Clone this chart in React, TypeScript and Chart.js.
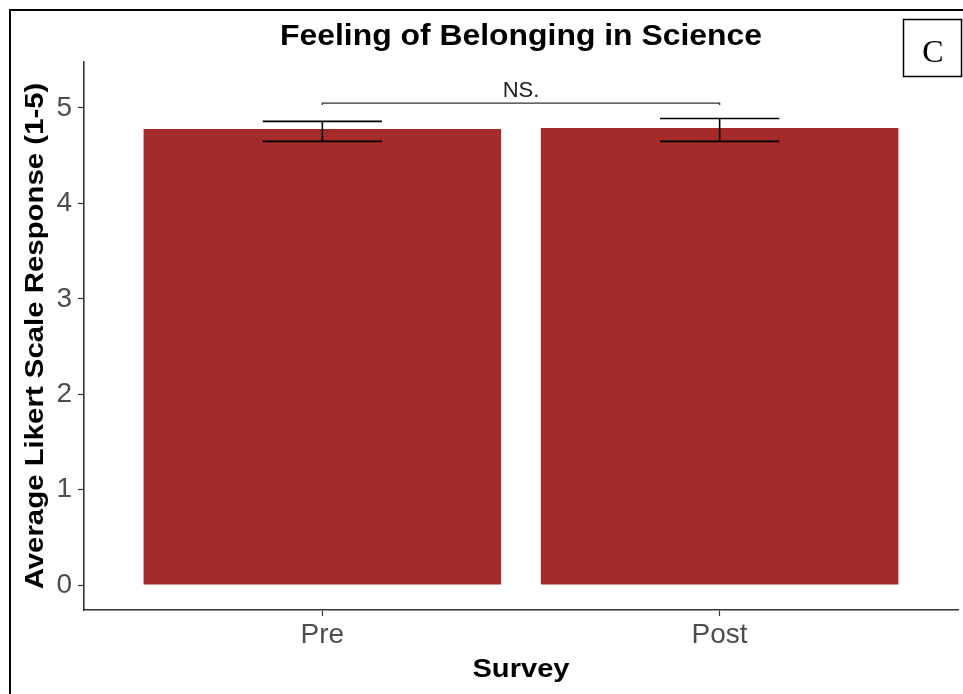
import { useEffect, useRef } from "react";
import { Chart, registerables } from "chart.js";

Chart.register(...registerables);

// Survey categories and mean responses with their error-bar bounds
const categories = ["Pre", "Post"];
const meanScores = [4.78, 4.79];
const errLower = [4.65, 4.65];
const errUpper = [4.86, 4.89];

// Axis ticks and range
const yTicks = [0, 1, 2, 3, 4, 5];
const yMin = -0.262;
const yMax = 5.482;

// Significance bracket between the two bars
const bracketValue = 5.05;
const bracketLabel = "NS.";

const titleText = "Feeling of Belonging in Science";
const xTitle = "Survey";
const yTitle = "Average Likert Scale Response (1-5)";
const panelLetter = "C";

const W = 963;
const H = 694;
const SANS = "'Liberation Sans', Arial, Helvetica, sans-serif";
const SERIF = "'Liberation Serif', 'Times New Roman', serif";
const ERR_WIDTH = 0.3; // error-bar cap width, in x units
const BAR_COLOR = "#A52A2A";
const AXIS_COLOR = "#333333";
const TICK_TEXT = "#4D4D4D";

function drawText(
  ctx: CanvasRenderingContext2D,
  text: string,
  x: number,
  y: number,
  font: string,
  stretch: number,
  rotation = 0,
  color = "#000"
) {
  ctx.save();
  ctx.translate(x, y);
  ctx.rotate(rotation);
  ctx.scale(stretch, 1);
  ctx.font = font;
  ctx.fillStyle = color;
  ctx.textAlign = "center";
  ctx.textBaseline = "alphabetic";
  ctx.fillText(text, 0, 0);
  ctx.restore();
}

const annotations = {
  id: "annotations",
  afterDatasetsDraw(chart: any) {
    const { ctx } = chart;
    const x = chart.scales.x;
    const y = chart.scales.y;
    ctx.save();

    // error bars
    ctx.strokeStyle = "#000";
    ctx.lineWidth = 1.6;
    categories.forEach((_, i) => {
      const cx = x.getPixelForValue(i + 1);
      const half = x.getPixelForValue(i + 1 + ERR_WIDTH / 2) - cx;
      const yl = y.getPixelForValue(errLower[i]);
      const yu = y.getPixelForValue(errUpper[i]);
      ctx.beginPath();
      ctx.moveTo(cx - half, yu);
      ctx.lineTo(cx + half, yu);
      ctx.moveTo(cx, yu);
      ctx.lineTo(cx, yl);
      ctx.moveTo(cx - half, yl);
      ctx.lineTo(cx + half, yl);
      ctx.stroke();
    });

    // significance bracket
    const x1 = x.getPixelForValue(1);
    const x2 = x.getPixelForValue(2);
    const by = y.getPixelForValue(bracketValue);
    const tip = y.getPixelForValue(bracketValue - 0.02);
    ctx.strokeStyle = AXIS_COLOR;
    ctx.lineWidth = 1.3;
    ctx.beginPath();
    ctx.moveTo(x1, tip);
    ctx.lineTo(x1, by);
    ctx.lineTo(x2, by);
    ctx.lineTo(x2, tip);
    ctx.stroke();
    drawText(ctx, bracketLabel, (x1 + x2) / 2, by - 6, `22px ${SANS}`, 1.0, 0, "#222");

    ctx.restore();
  },
  afterDraw(chart: any) {
    const { ctx, chartArea } = chart;
    const cx = (chartArea.left + chartArea.right) / 2;
    const cy = (chartArea.top + chartArea.bottom) / 2;
    ctx.save();

    // titles
    drawText(ctx, titleText, cx, 45, `bold 29px ${SANS}`, 1.1);
    drawText(ctx, xTitle, cx, 677, `bold 26px ${SANS}`, 1.12);
    drawText(ctx, yTitle, 43, cy, `bold 26px ${SANS}`, 1.13, -Math.PI / 2);

    // outer frame
    ctx.strokeStyle = "#000";
    ctx.lineWidth = 2;
    ctx.strokeRect(10, 10, W + 20, H + 20);

    // panel letter box
    ctx.lineWidth = 1.5;
    ctx.fillStyle = "#fff";
    ctx.fillRect(903, 19, 59, 58);
    ctx.strokeRect(903.5, 19.5, 58, 57);
    drawText(ctx, panelLetter, 933, 62, `32px ${SERIF}`, 1.0);

    ctx.restore();
  },
};

export default function App() {
  const canvasRef = useRef<HTMLCanvasElement | null>(null);

  useEffect(() => {
    const canvas = canvasRef.current;
    if (!canvas) return;
    const chart = new Chart(canvas, {
      type: "bar",
      data: {
        datasets: [
          {
            data: meanScores.map((v, i) => ({ x: i + 1, y: v })),
            backgroundColor: BAR_COLOR,
            borderWidth: 0,
            barPercentage: 0.9,
            categoryPercentage: 1,
          },
        ],
      },
      options: {
        responsive: false,
        animation: false,
        devicePixelRatio: 1,
        layout: { padding: { top: 62, right: 5, left: 0, bottom: 0 } },
        plugins: {
          legend: { display: false },
          tooltip: { enabled: false },
          title: { display: false },
        },
        scales: {
          x: {
            type: "linear",
            min: 0.4,
            max: 2.6,
            offset: false,
            afterBuildTicks: (scale: any) => {
              scale.ticks = categories.map((_, i) => ({ value: i + 1 }));
            },
            afterFit: (scale: any) => {
              scale.height = 84;
            },
            grid: {
              offset: false,
              drawOnChartArea: false,
              drawTicks: true,
              tickLength: 6,
              tickColor: AXIS_COLOR,
              tickWidth: 1.2,
            },
            border: { display: true, color: AXIS_COLOR, width: 1.6 },
            ticks: {
              color: TICK_TEXT,
              font: { family: SANS, size: 28 },
              padding: 2,
              maxRotation: 0,
              autoSkip: false,
              callback: (v: any) => categories[Math.round(Number(v)) - 1] ?? "",
            },
          },
          y: {
            type: "linear",
            min: yMin,
            max: yMax,
            afterBuildTicks: (scale: any) => {
              scale.ticks = yTicks.map((v) => ({ value: v }));
            },
            afterFit: (scale: any) => {
              scale.width = 84;
            },
            grid: {
              offset: false,
              drawOnChartArea: false,
              drawTicks: true,
              tickLength: 6,
              tickColor: AXIS_COLOR,
              tickWidth: 1.2,
            },
            border: { display: true, color: AXIS_COLOR, width: 1.6 },
            ticks: {
              color: TICK_TEXT,
              font: { family: SANS, size: 28 },
              padding: 6,
              includeBounds: false,
            },
          },
        },
      },
      plugins: [annotations],
    } as any);
    return () => chart.destroy();
  }, []);

  return (
    <div
      style={{
        position: "fixed",
        left: 0,
        top: 0,
        width: W,
        height: H,
        background: "#fff",
        overflow: "hidden",
      }}
    >
      <canvas ref={canvasRef} width={W} height={H} style={{ width: W, height: H, display: "block" }} />
    </div>
  );
}
